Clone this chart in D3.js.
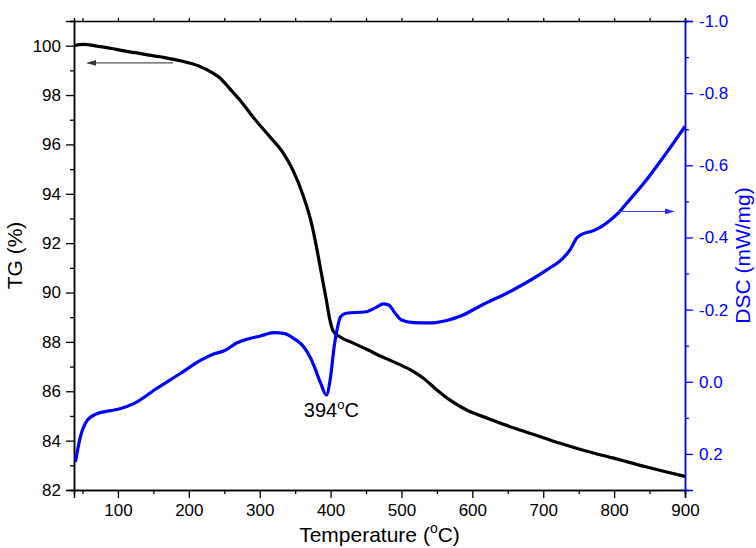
<!DOCTYPE html>
<html>
<head>
<meta charset="utf-8">
<script src="https://cdn.jsdelivr.net/npm/d3@7"></script>
<style>
  body { margin: 0; background: #fff; }
  svg text { font-family: "Liberation Sans", Arial, sans-serif; }
</style>
</head>
<body>
<svg id="chart" width="756" height="548"></svg>
<script>
/*  Data  */
const tgTemp = [38, 50, 75, 117, 159, 188, 214, 234, 244, 258, 272, 290, 314, 333, 347, 361, 373, 380, 387, 394, 399, 404, 413, 432, 453, 470, 493, 517, 531, 550, 568, 592, 625, 660, 700, 724, 760, 798, 846, 897, 900];
const tgVal  = [100.0, 100.05, 99.96, 99.75, 99.55, 99.39, 99.18, 98.89, 98.69, 98.25, 97.8, 97.13, 96.32, 95.66, 94.95, 93.95, 92.81, 91.86, 90.78, 89.7, 88.89, 88.42, 88.21, 87.95, 87.67, 87.43, 87.14, 86.8, 86.53, 86.05, 85.65, 85.24, 84.87, 84.5, 84.12, 83.89, 83.58, 83.3, 82.93, 82.57, 82.55];

const dscTemp = [40, 47, 57, 71, 90, 104, 123, 155, 188, 217, 235, 250, 268, 282, 301, 320, 334, 348, 362, 372, 377, 386, 394, 400, 405, 410, 414, 422, 450, 465, 474, 482, 491, 500, 517, 540, 564, 587, 611, 658, 705, 728, 738, 747, 756, 771, 782, 794, 806, 820, 841, 874, 900];
const dscVal  = [0.222, 0.153, 0.106, 0.088, 0.080, 0.074, 0.060, 0.018, -0.023, -0.060, -0.077, -0.086, -0.108, -0.118, -0.127, -0.136, -0.134, -0.120, -0.097, -0.065, -0.042, 0.004, 0.037, -0.014, -0.097, -0.153, -0.180, -0.190, -0.194, -0.207, -0.216, -0.213, -0.190, -0.171, -0.164, -0.163, -0.170, -0.185, -0.210, -0.255, -0.310, -0.343, -0.366, -0.398, -0.410, -0.419, -0.430, -0.447, -0.468, -0.500, -0.548, -0.635, -0.708];

const xTicks   = [100, 200, 300, 400, 500, 600, 700, 800, 900];
const tgTicks  = [82, 84, 86, 88, 90, 92, 94, 96, 98, 100];
const dscTicks = [-1.0, -0.8, -0.6, -0.4, -0.2, 0.0, 0.2];

const peakT = 394;

/*  Dimensions  */
const margin = {top: 21, right: 71, bottom: 58, left: 74},
      width  = 756 - margin.left - margin.right,
      height = 548 - margin.top  - margin.bottom;

const blue = "#0000ff";

const svg = d3.select("#chart")
  .append("g")
  .attr("transform", `translate(${margin.left},${margin.top})`);

const xScale   = d3.scaleLinear().domain([38, 900]).range([0, width]);
const yScale   = d3.scaleLinear().domain([82, 101]).range([height, 0]);
const dscScale = d3.scaleLinear().domain([-1.0, 0.3]).range([0, height]);

const minor = (a, b, s) => d3.range(a, b + s / 2, s);
const fmt1  = d => d3.format(".1f")(d).replace("\u2212", "-");

/* ---------- axes ---------- */
function styleAxis(g, col, size) {
  g.selectAll("path").attr("stroke", col).attr("stroke-width", 1.5);
  g.selectAll("line").attr("stroke", col).attr("stroke-width", 1.3);
  g.selectAll("text").attr("fill", col).style("font-size", size + "px");
}

// minor ticks first
svg.append("g").attr("transform", `translate(0,${height})`)
  .call(d3.axisBottom(xScale).tickValues(minor(50, 850, 100)).tickSize(4).tickFormat(""))
  .call(g => styleAxis(g, "#000", 17));
svg.append("g")
  .call(d3.axisTop(xScale).tickValues(minor(50, 900, 50)).tickSize(3).tickFormat(""))
  .call(g => styleAxis(g, "#000", 17));
svg.append("g")
  .call(d3.axisLeft(yScale).tickValues(minor(83, 99, 2)).tickSize(4).tickFormat(""))
  .call(g => styleAxis(g, "#000", 17));
svg.append("g").attr("transform", `translate(${width},0)`)
  .call(d3.axisRight(dscScale).tickValues(minor(-0.9, 0.1, 0.2)).tickSize(4).tickFormat(""))
  .call(g => styleAxis(g, blue, 17));

// major ticks
svg.append("g").attr("transform", `translate(0,${height})`)
  .call(d3.axisBottom(xScale).tickValues(xTicks).tickSize(8).tickPadding(6).tickFormat(d3.format("d")))
  .call(g => styleAxis(g, "#000", 17));
svg.append("g")
  .call(d3.axisLeft(yScale).tickValues(tgTicks).tickSize(8).tickPadding(5).tickFormat(d3.format("d")))
  .call(g => styleAxis(g, "#000", 17));
svg.append("g").attr("transform", `translate(${width},0)`)
  .call(d3.axisRight(dscScale).tickValues(dscTicks).tickSize(8).tickPadding(6).tickFormat(fmt1))
  .call(g => styleAxis(g, blue, 17));

/* ---------- lines ---------- */
const tgData  = tgTemp.map((t, i) => ({t, v: tgVal[i]}));
const dscData = dscTemp.map((t, i) => ({t, v: dscVal[i]}));

svg.append("clipPath").attr("id", "plot-clip")
  .append("rect").attr("width", width).attr("height", height);

svg.append("path")
  .datum(tgData)
  .attr("clip-path", "url(#plot-clip)")
  .attr("fill", "none")
  .attr("stroke", "#000")
  .attr("stroke-width", 3.2)
  .attr("d", d3.line().curve(d3.curveMonotoneX).x(d => xScale(d.t)).y(d => yScale(d.v)));

svg.append("path")
  .datum(dscData)
  .attr("clip-path", "url(#plot-clip)")
  .attr("fill", "none")
  .attr("stroke", blue)
  .attr("stroke-width", 3.2)
  .attr("d", d3.line().curve(d3.curveMonotoneX).x(d => xScale(d.t)).y(d => dscScale(d.v)));

/* ---------- arrows ---------- */
const defs = svg.append("defs");
function marker(id, col) {
  defs.append("marker").attr("id", id)
    .attr("viewBox", "0 0 10 6").attr("refX", 9).attr("refY", 3)
    .attr("markerWidth", 10).attr("markerHeight", 6)
    .attr("markerUnits", "userSpaceOnUse").attr("orient", "auto")
    .append("path").attr("d", "M0,0 L10,3 L0,6 Z").attr("fill", col);
}
marker("arr-k", "#333");
marker("arr-b", "#2a2aff");

svg.append("line")
  .attr("x1", xScale(178)).attr("x2", xScale(57))
  .attr("y1", yScale(99.3)).attr("y2", yScale(99.3))
  .attr("stroke", "#555").attr("stroke-width", 1.2)
  .attr("marker-end", "url(#arr-k)");

svg.append("line")
  .attr("x1", xScale(806)).attr("x2", xScale(884))
  .attr("y1", dscScale(-0.472)).attr("y2", dscScale(-0.472))
  .attr("stroke", "#3b3bff").attr("stroke-width", 1.2)
  .attr("marker-end", "url(#arr-b)");

/* ---------- labels ---------- */
const peak = svg.append("text")
  .attr("x", xScale(peakT) + 5)
  .attr("y", dscScale(0.037) + 22)
  .attr("text-anchor", "middle")
  .style("font-size", "20px");
peak.append("tspan").text(peakT);
peak.append("tspan").attr("dy", -8).style("font-size", "13px").text("o");
peak.append("tspan").attr("dy", 8).text("C");

const xl = svg.append("text")
  .attr("x", width / 2)
  .attr("y", height + 52)
  .attr("text-anchor", "middle")
  .style("font-size", "21px");
xl.append("tspan").text("Temperature (");
xl.append("tspan").attr("dy", -9).style("font-size", "14px").text("o");
xl.append("tspan").attr("dy", 9).text("C)");

svg.append("text")
  .attr("transform", "rotate(-90)")
  .attr("x", -height / 2)
  .attr("y", -52)
  .attr("text-anchor", "middle")
  .style("font-size", "21px")
  .text("TG (%)");

svg.append("text")
  .attr("transform", "rotate(-90)")
  .attr("x", -height / 2)
  .attr("y", width + 65)
  .attr("text-anchor", "middle")
  .attr("fill", blue)
  .style("font-size", "21px")
  .text("DSC (mW/mg)");
</script>
</body>
</html>
